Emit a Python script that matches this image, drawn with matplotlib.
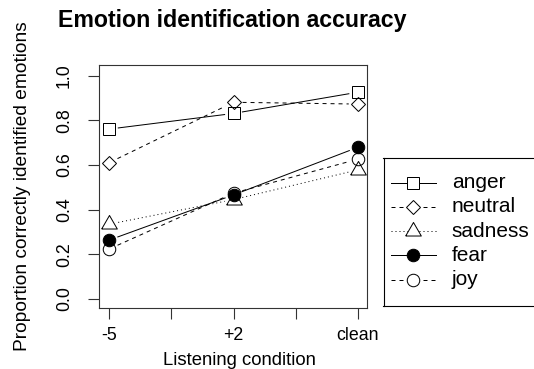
import numpy as np
import matplotlib
matplotlib.use('Agg')
import matplotlib.pyplot as plt
from matplotlib.lines import Line2D

plt.rcParams['font.family'] = ['Liberation Sans', 'DejaVu Sans']

# data
conditions = ['-5', '+2', 'clean']
emotions = ['anger', 'neutral', 'sadness', 'fear', 'joy']
anger = [0.761, 0.831, 0.926]
neutral = [0.611, 0.881, 0.873]
sadness = [0.335, 0.445, 0.578]
fear = [0.264, 0.466, 0.679]
joy = [0.224, 0.474, 0.626]
values = [anger, neutral, sadness, fear, joy]

# styles (R pch / lty look)
tri = [(-0.5, -0.2887), (0.5, -0.2887), (0.0, 0.5774), (-0.5, -0.2887)]
markers = ['s', 'D', tri, 'o', 'o']
msizes = [8.0, 7.5, 13.0, 9.0, 9.0]
filled = [False, False, False, True, False]
dashed = (0, (4, 4))
dotted = (0, (1, 3))
styles = ['-', dashed, dotted, '-', dashed]

W, H = 534, 369
lw = 0.72
gap = 9.0  # px gap around points (type = "b")

fig = plt.figure(figsize=(W / 100, H / 100), dpi=100)

# main panel, positions in pixels
left, right, top, bottom = 99.3, 367.3, 65.0, 308.3
ax = fig.add_axes([left / W, 1 - bottom / H, (right - left) / W, (bottom - top) / H])
ax.set_xlim(0.919, 3.077)
ax.set_ylim(-0.042, 1.048)

x = np.arange(1, len(conditions) + 1)

for vals, mk, ms, fl, ls in zip(values, markers, msizes, filled, styles):
    pts = ax.transData.transform(np.column_stack([x, vals]))
    for p0, p1 in zip(pts[:-1], pts[1:]):
        d = p1 - p0
        u = d / np.hypot(*d)
        seg = np.array([p0 + u * gap, p1 - u * gap])
        seg = ax.transData.inverted().transform(seg)
        ax.plot(seg[:, 0], seg[:, 1], color='black', lw=lw, linestyle=ls)
    ax.plot(x, vals, linestyle='none', marker=mk, markersize=ms,
            markerfacecolor='black' if fl else 'none',
            markeredgecolor='black', markeredgewidth=lw)

for s in ax.spines.values():
    s.set_linewidth(0.8)
    s.set_color('#333333')

ax.set_xticks([1, 1.5, 2, 2.5, 3])
ax.set_xticklabels([conditions[0], '', conditions[1], '', conditions[2]])
ax.set_yticks([0, 0.2, 0.4, 0.6, 0.8, 1.0])
ax.set_yticklabels(['0.0', '0.2', '0.4', '0.6', '0.8', '1.0'])
ax.tick_params(axis='both', direction='out', length=7.9, width=0.8,
               color='#333333', labelsize=12.8)
ax.tick_params(axis='x', pad=5.3)
ax.tick_params(axis='y', pad=11)
plt.setp(ax.get_yticklabels(), rotation=90, va='center')

fig.text(232.5 / W, 1 - 27.3 / H, 'Emotion identification accuracy',
         ha='center', va='baseline', fontsize=16.7, fontweight='bold')
fig.text(239 / W, 1 - 365 / H, 'Listening condition',
         ha='center', va='baseline', fontsize=13.3)
fig.text(26.7 / W, 1 - 186.2 / H, 'Proportion correctly identified emotions',
         ha='center', va='baseline', rotation=90, rotation_mode='anchor',
         fontsize=13.8)

# legend box, partly outside the figure like the original
lg_l, lg_t, lg_b, lg_r = 383.5, 158.3, 305.7, 620
lax = fig.add_axes([lg_l / W, 1 - lg_b / H, (lg_r - lg_l) / W, (lg_b - lg_t) / H])
lax.set_xlim(lg_l, lg_r)
lax.set_ylim(lg_b, lg_t)
lax.set_xticks([])
lax.set_yticks([])
for s in lax.spines.values():
    s.set_linewidth(0.8)

for i, (name, mk, ms, fl, ls) in enumerate(zip(emotions, markers, msizes, filled, styles)):
    yy = 182.5 + 24.3 * i
    lax.add_line(Line2D([390.7, 435.7], [yy, yy], color='black', lw=lw, linestyle=ls))
    lax.plot([413.3], [yy], marker=mk, markersize=ms,
             markerfacecolor='black' if fl else 'white',
             markeredgecolor='black', markeredgewidth=lw)
    lax.text(451.7, yy, name, ha='left', va='center', fontsize=15)

fig.savefig('out.png', dpi=100)
